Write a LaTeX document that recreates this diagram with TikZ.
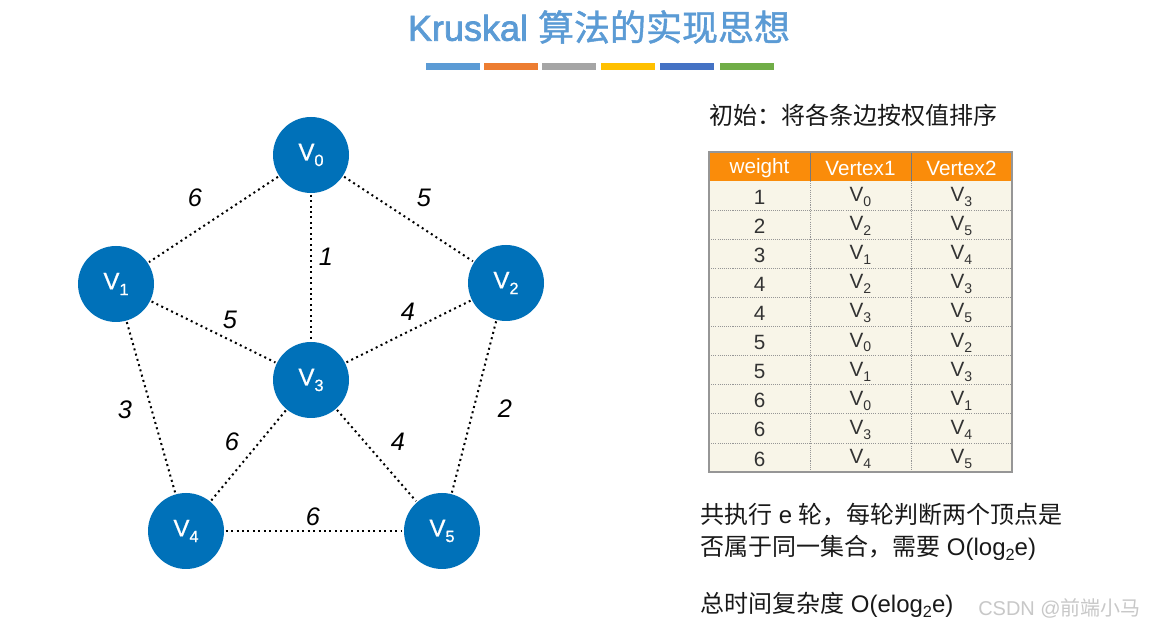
\documentclass[tikz,border=0pt]{standalone}
\usepackage{fontspec}
\setmainfont{Liberation Sans}
\newfontfamily\cjk{Noto Sans CJK SC}
\newfontfamily\titlefont[FakeBold=2]{Liberation Sans}
\newfontfamily\titlecjk[FakeBold=1.2]{Noto Sans CJK SC}
\newfontfamily\nodefont[FakeBold=0.8]{Liberation Sans}
\newcommand\lowsub[1]{\raisebox{-0.45ex}{\fontsize{0.68em}{1em}\selectfont #1}}
\definecolor{titleblue}{RGB}{91,155,213}
\definecolor{nodeblue}{RGB}{0,113,185}
\definecolor{hdrorange}{RGB}{250,140,10}
\definecolor{cream}{RGB}{248,245,232}
\definecolor{gridgray}{RGB}{150,150,150}
\definecolor{bar1}{RGB}{91,155,213}
\definecolor{bar2}{RGB}{237,125,49}
\definecolor{bar3}{RGB}{165,165,165}
\definecolor{bar4}{RGB}{255,192,0}
\definecolor{bar5}{RGB}{68,114,196}
\definecolor{bar6}{RGB}{112,173,71}
\definecolor{wmgray}{RGB}{200,200,200}
\begin{document}
\begin{tikzpicture}[x=0.75pt,y=-0.75pt,
  vtx/.style={circle,fill=nodeblue,minimum size=57pt,inner sep=0pt,text=white,font=\nodefont\fontsize{18}{20}\selectfont},
  edge/.style={line width=1.5pt,dash pattern=on 1.5pt off 2.6pt,shorten <=1pt,shorten >=1pt},
  elab/.style={font=\fontsize{19}{22}\selectfont\itshape},
  hdr/.style={text=white,font=\fontsize{15.5}{18}\selectfont},
  cell/.style={font=\fontsize{15.5}{18}\selectfont,text=black!80},
  txt/.style={anchor=west,inner sep=0pt,font=\fontsize{18}{22}\selectfont,text=black!90},
  colorbar/.style={minimum width=40.5pt,minimum height=5.2pt,inner sep=0pt}
]
\path[use as bounding box,fill=white] (0,0) rectangle (1157,630);

% title
\node[text=titleblue,font=\fontsize{27}{32}\selectfont] (title) at (599,27) {{\titlefont Kruskal} {\titlecjk 算法的实现思想}};
\node[colorbar,fill=bar1] (b1) at (452.5,66.5) {};
\node[colorbar,fill=bar2] (b2) at (510.5,66.5) {};
\node[colorbar,fill=bar3] (b3) at (569,66.5) {};
\node[colorbar,fill=bar4] (b4) at (628,66.5) {};
\node[colorbar,fill=bar5] (b5) at (687,66.5) {};
\node[colorbar,fill=bar6] (b6) at (746.5,66.5) {};

% graph
\node[vtx] (v0) at (311,155) {V\lowsub{0}};
\node[vtx] (v1) at (116,284) {V\lowsub{1}};
\node[vtx] (v2) at (506,283) {V\lowsub{2}};
\node[vtx] (v3) at (311,380) {V\lowsub{3}};
\node[vtx] (v4) at (186,531) {V\lowsub{4}};
\node[vtx] (v5) at (442,531) {V\lowsub{5}};

\draw[edge] (v0) -- (v1);
\draw[edge] (v0) -- (v2);
\draw[edge] (v0) -- (v3);
\draw[edge] (v1) -- (v3);
\draw[edge] (v2) -- (v3);
\draw[edge] (v1) -- (v4);
\draw[edge] (v3) -- (v4);
\draw[edge] (v3) -- (v5);
\draw[edge] (v2) -- (v5);
\draw[edge] (v4) -- (v5);

\node[elab] (l01) at (195,198) {6};
\node[elab] (l02) at (424,198) {5};
\node[elab] (l03) at (326,257) {1};
\node[elab] (l13) at (230,320) {5};
\node[elab] (l23) at (408,312) {4};
\node[elab] (l14) at (125,410) {3};
\node[elab] (l34) at (232,442) {6};
\node[elab] (l35) at (398,442) {4};
\node[elab] (l25) at (505,409) {2};
\node[elab] (l45) at (313,517) {6};

% right text
\node[txt] (init) at (709,115) {\cjk 初始：将各条边按权值排序};

% table
\fill[hdrorange] (709,152) rectangle (1012,181);
\fill[cream] (709,181) rectangle (1012,472);
\foreach \i in {1,...,9} {
  \draw[gridgray,line width=0.5pt,dash pattern=on 0.8pt off 0.8pt] (709,{181+29.1*\i}) -- (1012,{181+29.1*\i});
}
\draw[gridgray,line width=0.5pt,dash pattern=on 0.8pt off 0.8pt] (810,181) -- (810,472);
\draw[gridgray,line width=0.5pt,dash pattern=on 0.8pt off 0.8pt] (911,181) -- (911,472);
\draw[gridgray!80!black,line width=0.6pt] (810,152) -- (810,181) (911,152) -- (911,181);
\draw[gridgray,line width=0.8pt] (709,152) rectangle (1012,472);

\node[hdr] (h1) at (759.5,168) {weight};
\node[hdr] (h2) at (860.5,168) {Vertex1};
\node[hdr] (h3) at (961.5,168) {Vertex2};

\foreach \w/\a/\b [count=\r from 0] in {1/0/3,2/2/5,3/1/4,4/2/3,4/3/5,5/0/2,5/1/3,6/0/1,6/3/4,6/4/5} {
  \node[cell] (w\r) at (759.5,{197+29.1*\r}) {\w};
  \node[cell] (a\r) at (860.5,{197+29.1*\r}) {V\lowsub{\a}};
  \node[cell] (b\r) at (961.5,{197+29.1*\r}) {V\lowsub{\b}};
}

% bottom text
\node[txt] (t1) at (700,515) {{\cjk 共执行} e {\cjk 轮，每轮判断两个顶点是}};
\node[txt] (t2) at (700,548) {{\cjk 否属于同一集合，需要} O(log\lowsub{2}e)};
\node[txt] (t3) at (700,605) {{\cjk 总时间复杂度} O(elog\lowsub{2}e)};

\node[anchor=west,inner sep=0pt,text=wmgray,font=\fontsize{15}{18}\selectfont] (wm) at (978,608) {CSDN @{\cjk 前端小马}};
\end{tikzpicture}
\end{document}
